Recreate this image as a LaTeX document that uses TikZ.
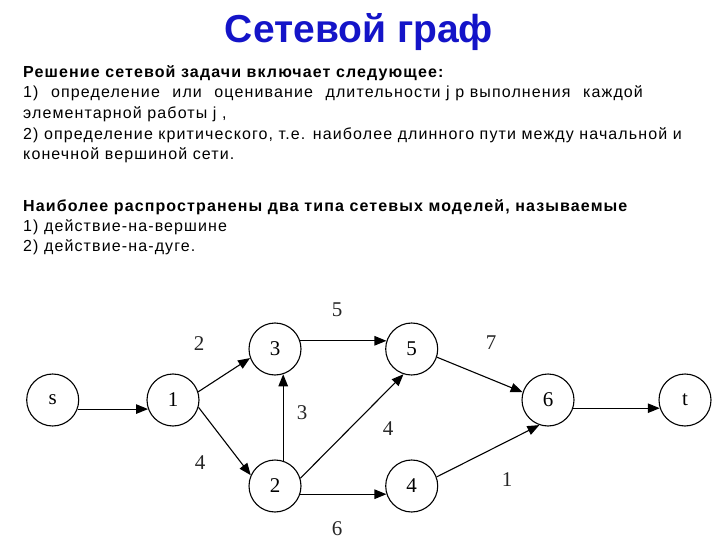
\documentclass[tikz,border=0pt]{standalone}
\usepackage{fontspec}
\setmainfont{Liberation Sans}
\newfontfamily\serifnum{Liberation Serif}
\usetikzlibrary{arrows.meta}
\definecolor{titleblue}{RGB}{20,20,200}
\newcommand{\wsp}{\hspace{7pt}}
\tikzset{
  vert/.style={circle,draw,line width=1.1pt,minimum size=52pt,inner sep=0pt,font=\serifnum\fontsize{21}{21}\selectfont},
  edge/.style={line width=1.1pt,-{Triangle[length=12pt,width=9.5pt]}},
  wlabel/.style={inner sep=0pt,text=black!85,font=\serifnum\fontsize{21}{21}\selectfont},
  txt/.style={anchor=base west,inner sep=0pt,font=\fontsize{16}{16}\selectfont\addfontfeature{LetterSpace=7}},
  btxt/.style={txt,font=\fontsize{16}{16}\selectfont\bfseries\addfontfeature{LetterSpace=7}}
}
\begin{document}
\begin{tikzpicture}[x=1pt,y=-1pt]
\useasboundingbox (0,0) rectangle (720,540);
\node[text=titleblue,font=\fontsize{39}{39}\selectfont\bfseries,anchor=base] (title) at (359,43) {Сетевой граф};
\node[btxt] (l1) at (23,77.5) {Решение сетевой задачи включает следующее:};
\node[txt] (l2) at (23,98) {1)\wsp{} определение\wsp{} или\wsp{} оценивание\wsp{} длительности j p выполнения\wsp{} каждой};
\node[txt] (l3) at (23,118.5) {элементарной работы j ,};
\node[txt] (l4) at (23,139.5) {2) определение критического, т.е. наиболее длинного пути между начальной и};
\node[txt] (l5) at (23,159.5) {конечной вершиной сети.};
\node[btxt] (m1) at (23,211.5) {Наиболее распространены два типа сетевых моделей, называемые};
\node[txt] (m2) at (23,231.5) {1) действие-на-вершине};
\node[txt] (m3) at (23,251.5) {2) действие-на-дуге.};

\node[vert] (s) at (52.7,400) {s};
\node[vert] (n1) at (173,400) {1};
\node[vert] (n3) at (275,349) {3};
\node[vert] (n5) at (411.7,349) {5};
\node[vert] (n2) at (275,486) {2};
\node[vert] (n4) at (411.7,486) {4};
\node[vert] (n6) at (548,400) {6};
\node[vert] (t) at (685,400) {t};

\draw[edge] (s.-20) -- (n1.200);
\draw[edge] (n1.18) -- (n3.200);
\draw[edge] (n1.-16) -- (n2.156);
\draw[edge] (n2.72) -- (n3.-72);
\draw[edge] (n3.18) -- (n5.162);
\draw[edge] (n2.17) -- (n5.252);
\draw[edge] (n2.-18) -- (n4.198);
\draw[edge] (n5.-18) -- (n6.163);
\draw[edge] (n4.20) -- (n6.251);
\draw[edge] (n6.-18) -- (t.198);

\node[wlabel] (w5) at (337,310) {5};
\node[wlabel] (w2) at (199,344) {2};
\node[wlabel] (w7) at (491,343) {7};
\node[wlabel] (w3) at (302,413) {3};
\node[wlabel] (w4a) at (388,429) {4};
\node[wlabel] (w4b) at (200,463) {4};
\node[wlabel] (w1) at (507,480) {1};
\node[wlabel] (w6) at (337,529) {6};
\end{tikzpicture}
\end{document}
